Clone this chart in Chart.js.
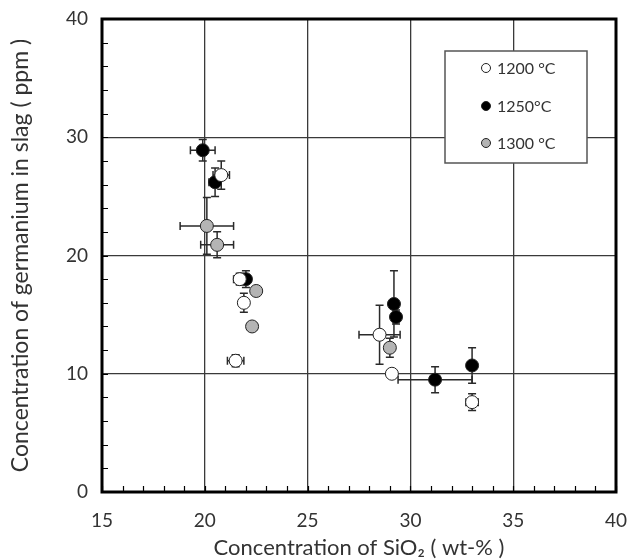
<!DOCTYPE html>
<html>
<head>
<meta charset="utf-8">
<script src="https://cdn.jsdelivr.net/npm/chart.js@4"></script>
<style>
html,body{margin:0;padding:0;background:#fff;}
#wrap{width:629px;height:559px;position:relative;}
</style>
</head>
<body>
<div id="wrap"><canvas id="c" width="629" height="559"></canvas></div>
<script>
// ---- data ----
const seriesLabels = ['1200 °C', '1250°C', '1300 °C'];
const xTicks = [15, 20, 25, 30, 35, 40];
const yTicks = [0, 10, 20, 30, 40];

const sio2_1200 = [20.8, 21.7, 21.9, 21.5, 28.5, 29.1, 33.0];
const ge_1200   = [26.8, 18.0, 16.0, 11.1, 13.3, 10.0, 7.6];
const sio2Err_1200 = [0.4, 0.3, 0.2, 0.4, 1.0, 0.2, 0.3];
const geErr_1200   = [1.2, 0.5, 0.8, 0.5, 2.5, 0.3, 0.7];

const sio2_1250 = [19.9, 20.5, 22.0, 29.2, 29.3, 31.2, 33.0];
const ge_1250   = [28.9, 26.2, 18.0, 15.9, 14.8, 9.5, 10.7];
const sio2Err_1250 = [0.6, 0.3, 0.2, 0.2, 0.2, 1.8, 0.2];
const geErr_1250   = [0.9, 1.2, 0.7, 2.8, 0.6, 1.1, 1.5];

const sio2_1300 = [20.1, 20.6, 22.5, 22.3, 29.0];
const ge_1300   = [22.5, 20.9, 17.0, 14.0, 12.2];
const sio2Err_1300 = [1.3, 0.8, 0.2, 0.2, 0.2];
const geErr_1300   = [2.4, 1.1, 0.3, 0.3, 0.8];

const fills = ['#ffffff', '#000000', '#b4b4b4'];

function pts(xs, ys, xe, ye) {
  return xs.map((x, i) => ({x: x, y: ys[i], xe: xe[i], ye: ye[i]}));
}

const FONT = 'Lato, "Open Sans", sans-serif';
const TXT = '#333333';

const errorBars = {
  id: 'errorBars',
  beforeDatasetsDraw(chart) {
    const ctx = chart.ctx, xs = chart.scales.x, ys = chart.scales.y;
    ctx.save();
    ctx.strokeStyle = '#2a2a2a';
    ctx.lineWidth = 1.5;
    const cap = 4;
    chart.data.datasets.forEach(ds => {
      ds.data.forEach(p => {
        const px = xs.getPixelForValue(p.x), py = ys.getPixelForValue(p.y);
        const x1 = xs.getPixelForValue(p.x - p.xe), x2 = xs.getPixelForValue(p.x + p.xe);
        const y1 = ys.getPixelForValue(p.y - p.ye), y2 = ys.getPixelForValue(p.y + p.ye);
        ctx.beginPath();
        ctx.moveTo(x1, py); ctx.lineTo(x2, py);
        ctx.moveTo(x1, py - cap); ctx.lineTo(x1, py + cap);
        ctx.moveTo(x2, py - cap); ctx.lineTo(x2, py + cap);
        ctx.moveTo(px, y1); ctx.lineTo(px, y2);
        ctx.moveTo(px - cap, y1); ctx.lineTo(px + cap, y1);
        ctx.moveTo(px - cap, y2); ctx.lineTo(px + cap, y2);
        ctx.stroke();
      });
    });
    ctx.restore();
  }
};

const frame = {
  id: 'frame',
  beforeDatasetsDraw(chart) {
    const ctx = chart.ctx, a = chart.chartArea, xs = chart.scales.x, ys = chart.scales.y;
    ctx.save();
    // minor ticks
    ctx.strokeStyle = '#000';
    ctx.lineWidth = 1.2;
    ctx.beginPath();
    for (let v = xs.min; v <= xs.max; v += 1) {
      const px = Math.round(xs.getPixelForValue(v)) + 0.5;
      ctx.moveTo(px, a.bottom); ctx.lineTo(px, a.bottom - 6);
    }
    for (let v = ys.min; v <= ys.max; v += 2) {
      const py = Math.round(ys.getPixelForValue(v)) + 0.5;
      ctx.moveTo(a.left, py); ctx.lineTo(a.left + 6, py);
    }
    ctx.stroke();
    // legend box
    const lx = 445, ly = 51, lw = 142, lh = 112;
    ctx.fillStyle = '#fff';
    ctx.fillRect(lx, ly, lw, lh);
    ctx.strokeStyle = '#555';
    ctx.lineWidth = 1.5;
    ctx.strokeRect(lx, ly, lw, lh);
    const rows = [68, 106, 143];
    ctx.font = '16px ' + FONT;
    ctx.textBaseline = 'middle';
    ctx.textAlign = 'left';
    seriesLabels.forEach((lab, i) => {
      ctx.beginPath();
      ctx.arc(486, rows[i], 4.5, 0, Math.PI * 2);
      ctx.fillStyle = fills[i];
      ctx.fill();
      ctx.strokeStyle = '#222';
      ctx.lineWidth = 1;
      ctx.stroke();
      ctx.fillStyle = TXT;
      ctx.fillText(lab, 497, rows[i] + 1);
    });
    ctx.restore();
  },
  afterDraw(chart) {
    const ctx = chart.ctx, a = chart.chartArea;
    ctx.save();
    ctx.strokeStyle = '#000';
    ctx.lineWidth = 3;
    ctx.strokeRect(a.left, a.top, a.right - a.left, a.bottom - a.top);
    ctx.restore();
  }
};

function mkDs(label, data, fill) {
  return {
    label: label, data: data,
    backgroundColor: fill, borderColor: '#222', borderWidth: 1,
    pointRadius: 6.5, pointHoverRadius: 6.5, showLine: false
  };
}

new Chart(document.getElementById('c'), {
  type: 'scatter',
  data: {
    datasets: [
      mkDs(seriesLabels[0], pts(sio2_1200, ge_1200, sio2Err_1200, geErr_1200), fills[0]),
      mkDs(seriesLabels[1], pts(sio2_1250, ge_1250, sio2Err_1250, geErr_1250), fills[1]),
      mkDs(seriesLabels[2], pts(sio2_1300, ge_1300, sio2Err_1300, geErr_1300), fills[2])
    ]
  },
  options: {
    responsive: false,
    animation: false,
    layout: { padding: { left: 0, top: 19, right: 13, bottom: 0 } },
    plugins: { legend: { display: false }, tooltip: { enabled: false } },
    scales: {
      x: {
        type: 'linear', min: xTicks[0], max: xTicks[xTicks.length - 1],
        afterBuildTicks: s => { s.ticks = xTicks.map(v => ({value: v})); },
        afterFit: s => { s.height = 67; s.paddingLeft = 0; s.paddingRight = 0; },
        grid: { color: '#3a3a3a', lineWidth: 1.3, drawTicks: false },
        border: { display: false },
        ticks: { color: TXT, font: { family: FONT, size: 19 }, padding: 17 },
        title: { display: true, text: 'Concentration of SiO₂ ( wt-% )', color: TXT,
                 font: { family: FONT, size: 22 }, padding: { top: 0, bottom: -2 } }
      },
      y: {
        type: 'linear', min: yTicks[0], max: yTicks[yTicks.length - 1],
        afterBuildTicks: s => { s.ticks = yTicks.map(v => ({value: v})); },
        afterFit: s => { s.width = 102; s.paddingTop = 0; s.paddingBottom = 0; },
        grid: { color: '#3a3a3a', lineWidth: 1.3, drawTicks: false },
        border: { display: false },
        ticks: { color: TXT, font: { family: FONT, size: 19 }, padding: 14 },
        title: { display: true, text: 'Concentration of germanium in slag ( ppm )', color: TXT,
                 font: { family: FONT, size: 23 }, padding: { top: 7, bottom: 0 } }
      }
    }
  },
  plugins: [errorBars, frame]
});
</script>
</body>
</html>
